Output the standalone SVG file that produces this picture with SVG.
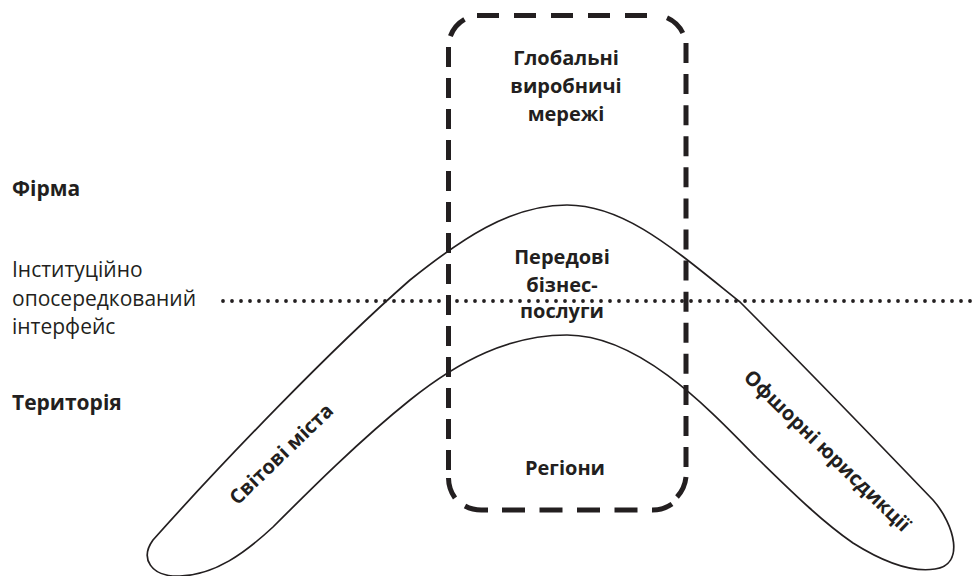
<svg xmlns="http://www.w3.org/2000/svg" width="977" height="576" viewBox="0 0 977 576">
<style>
  .bg { fill: #ffffff; }
  .shape { fill: none; stroke: #231f20; stroke-width: 1.7; }
  .dash { fill: none; stroke: #231f20; stroke-width: 5; stroke-linecap: butt; }
  .dots { fill: none; stroke: #231f20; stroke-width: 3.8; stroke-linecap: round; stroke-dasharray: 0 9; }
  .t { font-family: "Open Sans", "Liberation Sans", sans-serif; fill: #231f20; }
  .r { font-size: 21px; font-weight: 400; }
  .b { font-size: 20px; font-weight: 700; }
  .bl { font-size: 21px; font-weight: 700; }
  .c { text-anchor: middle; }
</style>
<rect class="bg" x="0" y="0" width="977" height="576"/>

<g id="boomerang">
  <path class="shape" d="M153,540 C220,465 330,350 410,280 C460,240 510,205 567,205 C625,205 675,250 740,302 C790,352 885,450 933,500 C955,525 965,565 935,569 C910,573 880,560 853,543 C820,520 790,490 757,458 C710,410 640,335 567,335 C510,335 460,360 410,400 C360,440 310,490 273,527 C245,553 215,575 180,576 C150,577 140,558 153,540 Z"/>
</g>

<g id="connectors">
  <line class="dots" x1="223" y1="301" x2="977" y2="301"/>
</g>

<g id="box">
  <path class="dash" d="M477,15.5 L650,15.5" stroke-dasharray="22 15"/>
  <path class="dash" d="M502,510 L640,510" stroke-dasharray="23 14.5"/>
  <path class="dash" d="M448.5,47 L448.5,473" stroke-dasharray="20 11"/>
  <path class="dash" d="M686,43 L686,470" stroke-dasharray="20 11.08"/>
  <path class="dash" d="M450.4,36.1 A32,32 0 0 1 464.5,19.3"/>
  <path class="dash" d="M667,17.8 A32,32 0 0 1 682.8,33"/>
  <path class="dash" d="M448.5,478 A35,35 0 0 0 455,498"/>
  <path class="dash" d="M465,506 A35,35 0 0 0 483,510 L488,510"/>
  <path class="dash" d="M652,510 A35,35 0 0 0 672,504"/>
  <path class="dash" d="M677,497 A35,35 0 0 0 686,477"/>
</g>

<g id="label-firma">
  <text class="t bl" x="12" y="196">Фірма</text>
</g>
<g id="label-interface">
  <text class="t r" x="12" y="277">Інституційно</text>
  <text class="t r" x="12" y="305.5">опосередкований</text>
  <text class="t r" x="12" y="334">інтерфейс</text>
</g>
<g id="label-territory">
  <text class="t bl" x="12" y="410">Територія</text>
</g>

<g id="node-global">
  <text class="t b c" x="566" y="65">Глобальні</text>
  <text class="t b c" x="566" y="93">виробничі</text>
  <text class="t b c" x="566" y="121">мережі</text>
</g>
<g id="node-services">
  <text class="t b c" x="562" y="264">Передові</text>
  <text class="t b c" x="562" y="291.5">бізнес-</text>
  <text class="t b c" x="562" y="318">послуги</text>
</g>
<g id="node-regions">
  <text class="t b c" x="565" y="475">Регіони</text>
</g>
<g id="node-cities">
  <text class="t b c" transform="translate(286,459) rotate(-44)">Світові міста</text>
</g>
<g id="node-offshore">
  <text class="t b c" transform="translate(822.5,455.6) rotate(44)">Офшорні юрисдикції</text>
</g>
</svg>
